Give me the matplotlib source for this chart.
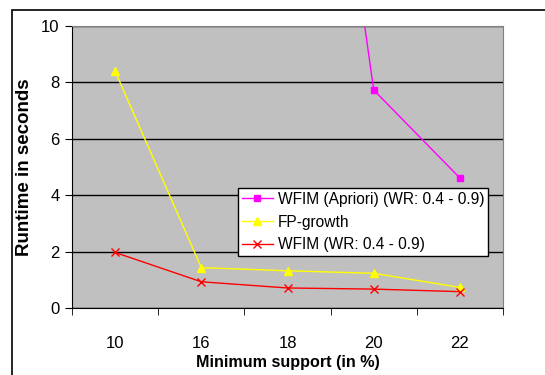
import numpy as np
import matplotlib.pyplot as plt
from matplotlib.patches import Rectangle

plt.rcParams['font.family'] = ['Liberation Sans', 'DejaVu Sans']

support = ['10', '16', '18', '20', '22']
apriori = [np.nan, np.nan, 29.5, 7.73, 4.61]
fp_growth = [8.40, 1.43, 1.32, 1.23, 0.73]
wfim = [1.97, 0.93, 0.71, 0.67, 0.58]

fig = plt.figure(figsize=(5.45, 3.75), dpi=100)
ax = fig.add_axes([72 / 545, 1 - 308 / 375, 431 / 545, 282 / 375])

# outer chart frame
fig.patches.append(Rectangle((12 / 545, -0.1), 1.2, 1 - 10 / 375 + 0.1,
                             transform=fig.transFigure, fill=False,
                             edgecolor='black', linewidth=1.2))

x = np.arange(len(support))
ax.set_facecolor('#c0c0c0')
ax.plot(x, apriori, color='#ff00ff', marker='s', markersize=5, linewidth=1,
        label='WFIM (Apriori) (WR: 0.4 - 0.9)')
ax.plot(x, fp_growth, color='#ffff00', marker='^', markersize=6, linewidth=1,
        label='FP-growth')
ax.plot(x, wfim, color='#ff0000', marker='x', markersize=6, linewidth=1,
        markeredgewidth=1, label='WFIM (WR: 0.4 - 0.9)')

ax.set_xlim(-0.5, 4.5)
ax.set_ylim(0, 10)
ax.set_yticks(range(0, 11, 2))
ax.yaxis.grid(True, color='black', linewidth=1)
ax.set_axisbelow(True)
ax.set_xticks(x)
ax.set_xticklabels(support)
ax.set_xticks(np.arange(-0.5, 5, 1), minor=True)
ax.tick_params(axis='x', which='major', length=0, labelsize=12, pad=20)
ax.tick_params(axis='x', which='minor', length=5, direction='out')
ax.tick_params(axis='y', length=5, direction='out', labelsize=12, pad=4)

for side in ['top', 'right']:
    ax.spines[side].set_color('#808080')
ax.spines['left'].set_color('black')
ax.spines['bottom'].set_color('black')

ax.set_xlabel('Minimum support (in %)', fontsize=11.6, fontweight='bold', labelpad=3)
ax.set_ylabel('Runtime in seconds', fontsize=13.5, fontweight='bold', labelpad=6)

leg = ax.legend(loc='upper left', bbox_to_anchor=(166 / 431, 1 - 162 / 282),
                fontsize=11.2, frameon=True, fancybox=False, framealpha=1,
                borderpad=0.25, labelspacing=0.5, handlelength=2.0,
                handletextpad=0.3, borderaxespad=0)
leg.get_frame().set_edgecolor('black')
leg.get_frame().set_linewidth(1)

fig.savefig('out.png', dpi=100)
